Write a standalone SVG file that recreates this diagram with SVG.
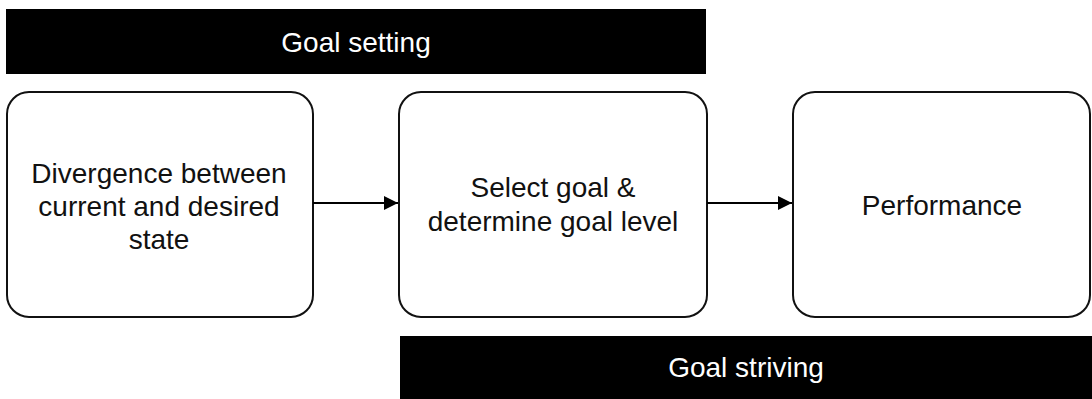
<svg xmlns="http://www.w3.org/2000/svg" width="1092" height="399" viewBox="0 0 1092 399">
  <style>
    .bar { fill: #000; }
    .bar-label { fill: #fff; font-family: "Liberation Sans", Arial, sans-serif; font-size: 28px; text-anchor: middle; }
    .box { fill: #fff; stroke: #111; stroke-width: 2; }
    .label { fill: #111; font-family: "Liberation Sans", Arial, sans-serif; font-size: 28px; text-anchor: middle; }
    .edge { stroke: #000; stroke-width: 2; fill: none; }
  </style>
  <defs>
    <marker id="arrow" markerWidth="14" markerHeight="14" refX="14" refY="7" orient="auto" markerUnits="userSpaceOnUse">
      <path d="M0,0 L14,7 L0,14 Z" fill="#000"/>
    </marker>
  </defs>
  <rect width="1092" height="399" fill="#fff"/>

  <g id="goal-setting">
    <rect class="bar" x="6" y="9" width="700" height="65"/>
    <text class="bar-label" x="356" y="52">Goal setting</text>
  </g>

  <g id="divergence">
    <rect class="box" x="7" y="92" width="306" height="225" rx="22" ry="22"/>
    <text class="label" x="159" y="183">Divergence between</text>
    <text class="label" x="159" y="216">current and desired</text>
    <text class="label" x="159" y="249">state</text>
  </g>

  <g id="select-goal">
    <rect class="box" x="399" y="92" width="308" height="225" rx="22" ry="22"/>
    <text class="label" x="553" y="197">Select goal &amp;</text>
    <text class="label" x="553" y="231">determine goal level</text>
  </g>

  <g id="performance">
    <rect class="box" x="793" y="92" width="297" height="225" rx="22" ry="22"/>
    <text class="label" x="942" y="215">Performance</text>
  </g>

  <g id="goal-striving">
    <rect class="bar" x="400" y="336" width="692" height="63"/>
    <text class="bar-label" x="746" y="377">Goal striving</text>
  </g>

  <g id="connectors">
    <line class="edge" x1="313" y1="203" x2="398" y2="203" marker-end="url(#arrow)"/>
    <line class="edge" x1="707" y1="203" x2="792" y2="203" marker-end="url(#arrow)"/>
  </g>
</svg>
